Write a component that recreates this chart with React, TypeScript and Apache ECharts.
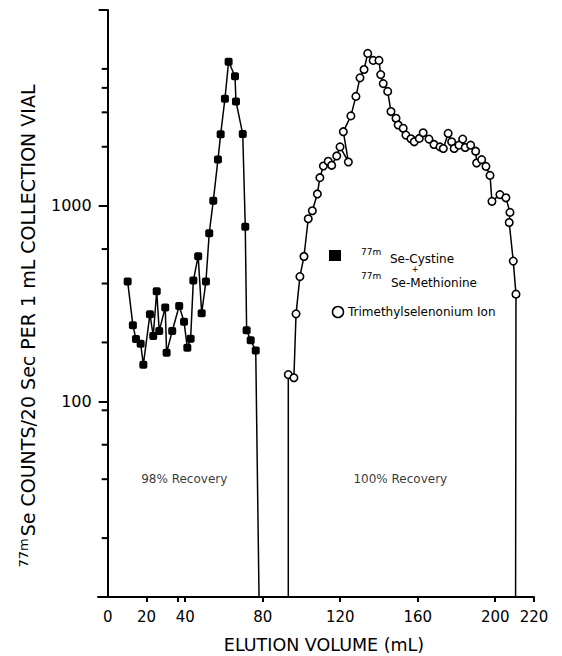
import React, { useEffect, useRef } from "react";
import * as echarts from "echarts";

// Elution volume (mL) vs counts (log scale)
const cystineMethionine: [number, number][] = [
  [10.3, 410], [13.0, 245], [14.6, 208], [17.0, 197], [18.4, 154],
  [21.8, 279], [23.5, 216], [25.3, 365], [26.6, 229], [29.7, 302],
  [30.4, 177], [33.3, 229], [36.9, 307], [39.4, 255], [41.1, 188],
  [42.8, 209], [44.2, 414], [46.7, 552], [48.5, 282], [50.7, 410],
  [52.4, 723], [54.5, 1061], [56.9, 1720], [58.3, 2314], [60.5, 3520],
  [62.4, 5440], [65.7, 4585], [66.2, 3410], [69.7, 2323], [71.0, 780],
  [71.7, 231], [73.8, 205], [76.4, 182],
];
const cystineBaselineEnd: [number, number] = [78.1, 10];

const trimethylselenonium: [number, number][] = [
  [93.2, 137], [96.1, 132], [97.2, 280], [99.2, 434], [101.3, 550],
  [103.5, 857], [105.6, 942], [108.2, 1148], [109.5, 1390], [111.3, 1595],
  [113.8, 1686], [115.6, 1608], [118.2, 1795], [119.9, 1997], [124.2, 1672],
  [121.6, 2388], [125.5, 2876], [128.1, 3617], [130.2, 4500], [132.3, 4965],
  [134.2, 6000], [137.0, 5525], [140.0, 5525], [140.9, 4677], [142.2, 4205],
  [144.5, 3837], [146.2, 3027], [148.8, 2798], [149.9, 2584], [152.5, 2485],
  [153.9, 2295], [156.5, 2197], [158.2, 2120], [160.8, 2206], [162.8, 2358],
  [165.8, 2189], [168.4, 2055], [171.5, 1997], [173.2, 1960], [175.7, 2342],
  [177.5, 2120], [178.8, 1960], [181.3, 2038], [183.2, 2189], [184.5, 1983],
  [187.3, 2038], [189.9, 1898], [190.4, 1652], [193.0, 1719], [195.2, 1588],
  [197.3, 1428], [198.3, 1052], [202.4, 1139], [205.5, 1097], [207.6, 924],
  [207.2, 820], [209.3, 521], [210.7, 353],
];
const tmsBaselineStart: [number, number] = [93.2, 10];
const tmsBaselineEnd: [number, number] = [210.5, 10];

const X_MIN = -5;
const X_MAX = 220;
const Y_MIN = 10;
const Y_MAX = 10000;
const xTickValues = [20, 36, 40, 80, 120, 160, 200, 220];
const xLabelValues = [0, 20, 40, 80, 120, 160, 200, 220];
const yLabelValues = [100, 1000];
const yMinorTickValues = [20, 40, 60, 90, 200, 400, 600, 2000, 3000, 4000, 5000];

const recoveryNotes = [
  { name: "98% Recovery", value: [39.5, 40] },
  { name: "100% Recovery", value: [151, 40] },
];

const FONT = "DejaVu Sans";
const GRID = { left: 98, right: 28, top: 10, bottom: 59 };
const W = 562;
const H = 656;

export default function App() {
  const ref = useRef<HTMLDivElement>(null);
  useEffect(() => {
    document.body.style.margin = "0";
    if (!ref.current) return;
    const chart = echarts.init(ref.current, undefined, { renderer: "svg" });
    // the y axis sits at x = 0, inside an x range that starts at X_MIN
    const gridWidth = W - GRID.left - GRID.right;
    const yAxisOffset = -((0 - X_MIN) / (X_MAX - X_MIN)) * gridWidth;
    const option: any = {
      animation: false,
      backgroundColor: "#fff",
      grid: { ...GRID, outerBoundsMode: "none" },
      xAxis: {
        type: "value",
        min: X_MIN,
        max: X_MAX,
        axisLine: { onZero: false, lineStyle: { color: "#000", width: 2 } },
        axisTick: { customValues: xTickValues, length: 5, lineStyle: { color: "#000", width: 2 } },
        axisLabel: {
          customValues: xLabelValues,
          color: "#000",
          fontSize: 15,
          fontFamily: FONT,
          margin: 12,
        },
        splitLine: { show: false },
      },
      yAxis: {
        type: "log",
        logBase: 10,
        min: Y_MIN,
        max: Y_MAX,
        position: "left",
        offset: yAxisOffset,
        axisLine: { show: true, onZero: false, lineStyle: { color: "#000", width: 2 } },
        axisTick: { show: true, length: 9, lineStyle: { color: "#000", width: 2 } },
        axisLabel: {
          color: "#000",
          fontSize: 16,
          fontFamily: FONT,
          margin: 16,
          formatter: (v: number) =>
            yLabelValues.indexOf(Math.round(v)) >= 0 ? String(Math.round(v)) : "",
        },
        splitLine: { show: false },
      },
      series: [
        {
          name: "77mSe-Cystine + 77mSe-Methionine",
          type: "line",
          symbol: "roundRect",
          symbolSize: 8,
          showAllSymbol: true,
          itemStyle: { color: "#000" },
          lineStyle: { color: "#000", width: 1.5 },
          data: [
            ...cystineMethionine.map((p) => ({ value: p })),
            { value: cystineBaselineEnd, symbol: "none" },
          ],
        },
        {
          name: "Trimethylselenonium Ion",
          type: "line",
          symbol: "circle",
          symbolSize: 7.5,
          showAllSymbol: true,
          itemStyle: { color: "#fff", borderColor: "#000", borderWidth: 1.6 },
          lineStyle: { color: "#000", width: 1.5 },
          data: [
            { value: tmsBaselineStart, symbol: "none" },
            ...trimethylselenonium.map((p) => ({ value: p })),
            { value: tmsBaselineEnd, symbol: "none" },
          ],
          z: 3,
        },
        {
          // minor ticks of the y axis, placed through the axis scales
          name: "minor-ticks",
          type: "custom",
          silent: true,
          clip: false,
          coordinateSystem: "cartesian2d",
          encode: { x: 0, y: 1 },
          data: yMinorTickValues.map((v) => [0, v]),
          renderItem: (_params: any, api: any) => {
            const p = api.coord([api.value(0), api.value(1)]);
            return {
              type: "line",
              shape: { x1: p[0] - 6, y1: p[1], x2: p[0], y2: p[1] },
              style: { stroke: "#000", lineWidth: 2 },
            };
          },
          z: 10,
        },
        {
          name: "notes",
          type: "scatter",
          silent: true,
          symbolSize: 1,
          itemStyle: { color: "rgba(0,0,0,0)" },
          label: {
            show: true,
            position: "inside",
            formatter: "{b}",
            color: "#000",
            fontSize: 12,
            fontFamily: FONT,
          },
          data: recoveryNotes,
        },
      ],
      graphic: [
        {
          type: "text",
          x: 27,
          y: 326,
          rotation: Math.PI / 2,
          style: {
            text: "{sup|77m}{main|Se COUNTS/20 Sec PER 1 mL COLLECTION VIAL}",
            align: "center",
            verticalAlign: "middle",
            fill: "#000",
            rich: {
              sup: { fontSize: 13, fontFamily: FONT, fill: "#000", verticalAlign: "top", padding: [0, 2, 8, 0] },
              main: { fontSize: 19, fontFamily: FONT, fill: "#000", verticalAlign: "bottom" },
            },
          },
        },
        {
          type: "text",
          x: 324,
          y: 645,
          style: {
            text: "ELUTION VOLUME (mL)",
            align: "center",
            verticalAlign: "middle",
            fontSize: 17.5,
            fontFamily: FONT,
            fill: "#000",
          },
        },
        // legend
        { type: "rect", shape: { x: 329, y: 250, width: 12, height: 11 }, style: { fill: "#000" } },
        { type: "text", x: 361, y: 252, style: { text: "77m", fontSize: 9, fontFamily: FONT, fill: "#000", verticalAlign: "middle" } },
        { type: "text", x: 390, y: 259, style: { text: "Se-Cystine", fontSize: 12, fontFamily: FONT, fill: "#000", verticalAlign: "middle" } },
        { type: "text", x: 415, y: 269, style: { text: "+", fontSize: 8, fontFamily: FONT, fill: "#000", align: "center", verticalAlign: "middle" } },
        { type: "text", x: 361, y: 276, style: { text: "77m", fontSize: 9, fontFamily: FONT, fill: "#000", verticalAlign: "middle" } },
        { type: "text", x: 391, y: 283, style: { text: "Se-Methionine", fontSize: 12, fontFamily: FONT, fill: "#000", verticalAlign: "middle" } },
        { type: "circle", shape: { cx: 338, cy: 312, r: 5.5 }, style: { fill: "#fff", stroke: "#000", lineWidth: 1.5 } },
        { type: "text", x: 348, y: 312, style: { text: "Trimethylselenonium Ion", fontSize: 12, fontFamily: FONT, fill: "#000", verticalAlign: "middle" } },
      ],
    };
    chart.setOption(option);
    return () => chart.dispose();
  }, []);
  return <div ref={ref} style={{ width: W, height: H }} />;
}
